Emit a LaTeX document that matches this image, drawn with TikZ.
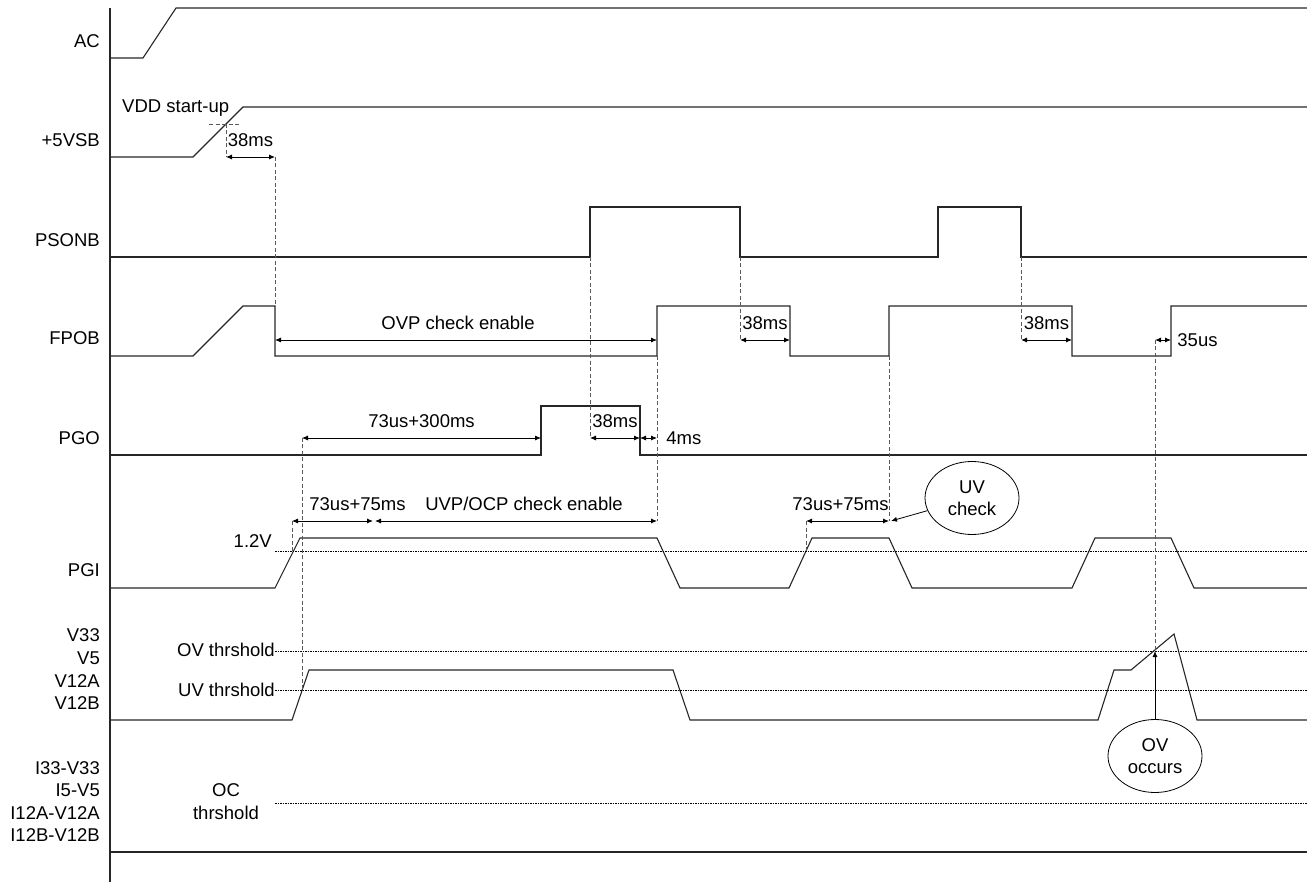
\documentclass[tikz,border=0pt]{standalone}
\usepackage{fontspec}
\setmainfont{Liberation Sans}
\usetikzlibrary{arrows.meta,positioning,shapes}

\newcommand{\wavefont}{\fontsize{18.5}{21.5}\selectfont}

\begin{document}
\begin{tikzpicture}[x=1pt,y=-1pt, >={Latex[length=6pt,width=5pt]},
    wave/.style={line width=1.1pt,black!85},
    guide/.style={gray!70!black,line width=0.9pt,dash pattern=on 4pt off 2.5pt},
    thres/.style={black,line width=0.7pt,dash pattern=on 1.5pt off 1pt},
    dimarr/.style={<->,line width=0.9pt},
    txt/.style={font=\wavefont,inner sep=0pt,text height=13pt,text depth=0pt},
    sig/.style={txt,anchor=east},
    bubble/.style={ellipse,draw,line width=0.8pt,minimum width=94pt,minimum height=73pt,inner sep=0pt,font=\wavefont,align=center}]
              \useasboundingbox (0,0) rectangle (1307,882);

              % time axis
              \draw[wave] (110,8) -- (110,882);
              \draw[wave] (110,852) -- (1307,852);

              % signal names
              \node[sig] (ac) at (100,41) {AC};
              \node[sig] (vsb) at (100,140) {+5VSB};
              \node[sig] (pson) at (100,240) {PSONB};
              \node[sig] (fpob) at (100,338) {FPOB};
              \node[sig] (pgo) at (100,438) {PGO};
              \node[sig] (pgi) at (100,570) {PGI};
              \foreach \t/\y [count=\i] in {V33/635,V5/658,V12A/681,V12B/703}
                \node[sig] (rail\i) at (100,\y) {\t};
              \foreach \t/\y [count=\i] in {I33-V33/768,I5-V5/790,I12A-V12A/813,I12B-V12B/835}
                \node[sig] (cur\i) at (100,\y) {\t};

              % waveforms
              \draw[wave] (110,58) -- (143,58) -- (176,8) -- (1307,8);
              \draw[wave] (110,157) -- (193,157) -- (243,107) -- (1307,107);
              \draw[wave] (110,257) -| (590,207) -| (740,257) -| (938,207) -| (1021,257) -- (1307,257);
              \draw[wave] (110,356) -- (193,356) -- (243,306) -| (275,356) -| (657,306) -| (790,356) -| (889,306) -| (1072,356) -| (1171,306) -- (1307,306);
              \draw[wave] (110,455) -| (541,406) -| (640,455) -- (1307,455);
              \draw[wave] (110,588) -- (275,588) -- (300,538) -- (657,538) -- (680,588) -- (789,588) -- (812,538) -- (889,538) -- (912,588)
                -- (1072,588) -- (1095,538) -- (1171,538) -- (1194,588) -- (1307,588);
              \draw[wave] (110,720) -- (292,720) -- (309,670) -- (673,670) -- (690,720) -- (1098,720) -- (1114,670) -- (1131,670)
                -- (1174,634) -- (1197,720) -- (1307,720);

              % thresholds
              \foreach \y in {551,651,690,803}
                \draw[thres] (275,\y) -- (1307,\y);
              \node[txt,anchor=east] (lvl) at (272,541) {1.2V};
              \node[txt,anchor=east] (ovth) at (275,650) {OV thrshold};
              \node[txt,anchor=east] (uvth) at (275,690) {UV thrshold};
              \node[txt] (oc) at (226,790) {OC};
              \node[txt] (octh) at (226,813) {thrshold};
              \node[txt,anchor=west] (vdd) at (122,106) {VDD start-up};

              % guide lines
              \draw[guide] (209,124) -- (241,124);
              \foreach \x/\a/\b in {226/124/157, 275/157/306, 590/257/438, 657/356/521, 740/257/340, 889/356/521,
                  1021/257/340, 1155/340/651, 302/438/690, 292/521/551, 806/521/551}
                \draw[guide] (\x,\a) -- (\x,\b);

              % timing arrows
              \coordinate (vdd-a) at (226,157);
              \coordinate (vdd-b) at (275,157);
              \coordinate (ovp-a) at (275,340);
              \coordinate (ovp-b) at (657,340);
              \coordinate (pgo-a) at (302,438);
              \coordinate (pgo-b) at (541,438);
              \coordinate (pgo-c) at (590,438);
              \coordinate (pgo-d) at (640,438);
              \coordinate (pgo-e) at (657,438);
              \coordinate (fp-a) at (740,340);
              \coordinate (fp-b) at (790,340);
              \coordinate (fp-c) at (1021,340);
              \coordinate (fp-d) at (1072,340);
              \coordinate (fp-e) at (1155,340);
              \coordinate (fp-f) at (1171,340);
              \coordinate (pgi-a) at (292,521);
              \coordinate (pgi-b) at (373,521);
              \coordinate (pgi-c) at (375,521);
              \coordinate (pgi-d) at (657,521);
              \coordinate (pgi-e) at (806,521);
              \coordinate (pgi-f) at (889,521);

              \draw[dimarr] (vdd-a) -- node[txt,midway,above=10pt] {38ms} (vdd-b);
              \draw[dimarr] (ovp-a) -- node[txt,midway,above=10pt,xshift=-8pt] {OVP check enable} (ovp-b);
              \draw[dimarr] (pgo-a) -- node[txt,midway,above=10pt] {73us+300ms} (pgo-b);
              \draw[dimarr] (pgo-c) -- node[txt,midway,above=10pt] {38ms} (pgo-d);
              \draw[dimarr] (pgo-d) -- node[txt,pos=1,anchor=west,xshift=9pt] {4ms} (pgo-e);
              \draw[dimarr] (fp-a) -- node[txt,midway,above=10pt] {38ms} (fp-b);
              \draw[dimarr] (fp-c) -- node[txt,midway,above=10pt] {38ms} (fp-d);
              \draw[dimarr] (fp-e) -- node[txt,pos=1,anchor=west,xshift=6pt] {35us} (fp-f);
              \draw[dimarr] (pgi-a) -- node[txt,midway,above=10pt,xshift=25pt] {73us+75ms} (pgi-b);
              \draw[dimarr] (pgi-c) -- node[txt,midway,above=10pt,xshift=8pt] {UVP/OCP check enable} (pgi-d);
              \draw[dimarr] (pgi-e) -- node[txt,midway,above=10pt,xshift=-7pt] {73us+75ms} (pgi-f);

              % callouts
              \node[bubble] (uvchk) at (972,498) {UV\\check};
              \coordinate (uvtip) at (891,521);
              \draw[->,line width=0.8pt] (uvchk) -- (uvtip);
              \node[bubble] (ovocc) at (1155,756) {OV\\occurs};
              \coordinate (ovtip) at (1155,651);
              \draw[->,line width=0.9pt] (ovocc) -- (ovtip);
            \end{tikzpicture}
\end{document}
